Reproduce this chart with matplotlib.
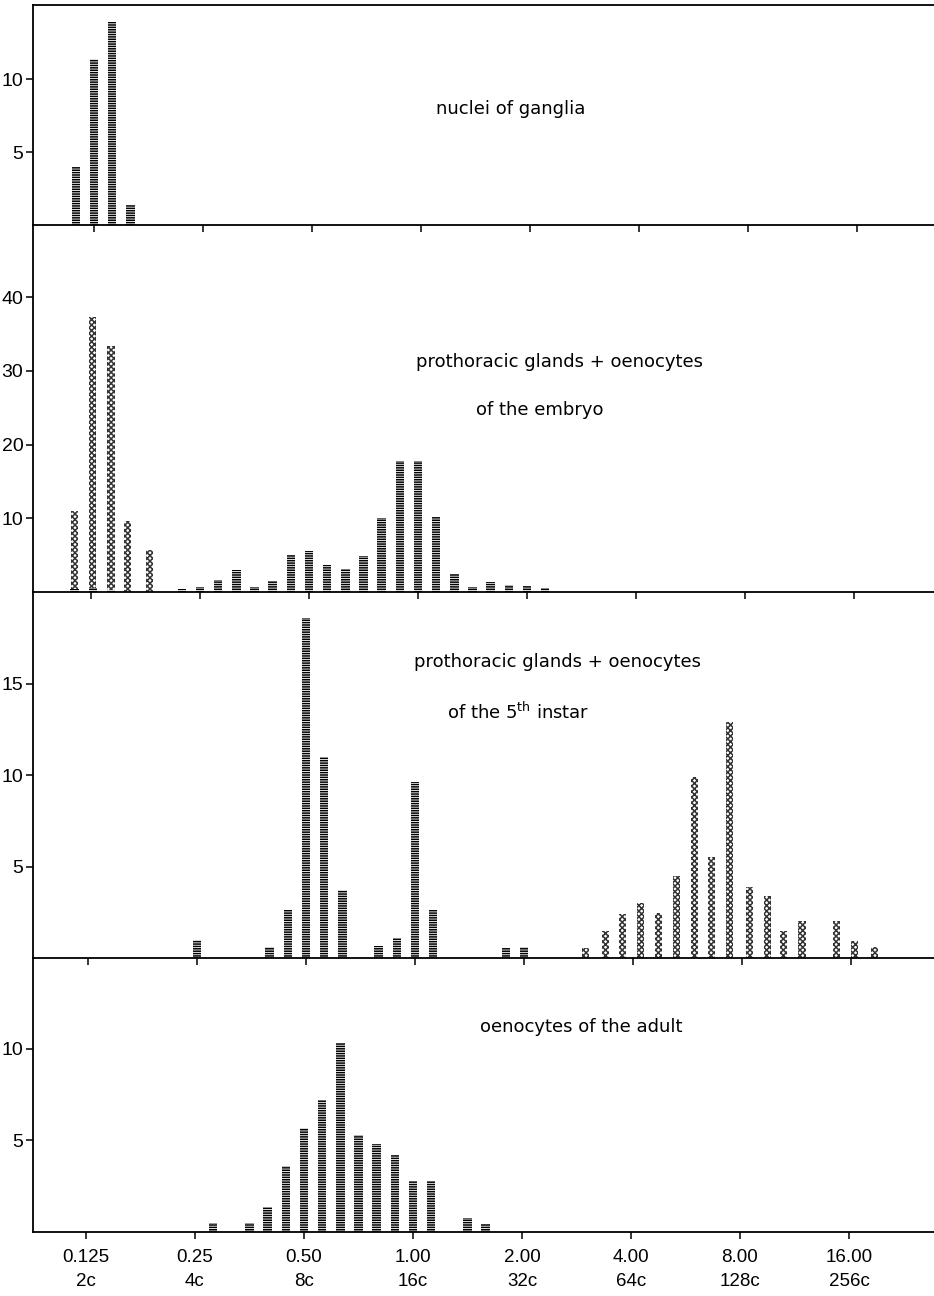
import numpy as np
import matplotlib.pyplot as plt

plt.rcParams['hatch.linewidth'] = 1.1

# x axis: relative DNA content (log2 spaced) and its two-line labels
tick_values = [0.125, 0.25, 0.5, 1, 2, 4, 8, 16]
tick_labels = ["0.125\n2c", "0.25\n4c", "0.50\n8c", "1.00\n16c",
               "2.00\n32c", "4.00\n64c", "8.00\n128c", "16.00\n256c"]

# classes are counted in sixths of an octave above 0.125 (k = 0 -> 0.125)
gang_k = [-1, 0, 1, 2]
gang_n = [4.0, 11.4, 13.9, 1.4]

emb_dot_k = [-0.9, 0.1, 1.1, 2.0, 3.2]
emb_dot_n = [11.0, 37.3, 33.4, 9.6, 5.7]
emb_bar_k = [-0.9, 0.1, 1.1, 5, 6, 7, 8, 9, 10, 11, 12, 13, 14, 15, 16, 17, 18,
             19, 20, 21, 22, 23, 24, 25]
emb_bar_n = [0.4, 0.6, 0.3, 0.4, 0.7, 1.6, 3.0, 0.7, 1.5, 5.0, 5.6, 3.7, 3.1,
             4.9, 10.0, 17.8, 17.8, 10.2, 2.4, 0.7, 1.4, 1.0, 0.8, 0.5]

inst_bar_k = [6, 10, 11, 12, 13, 14, 16, 17, 18, 19, 23, 24]
inst_bar_n = [1.0, 0.6, 2.6, 18.6, 11.0, 3.7, 0.65, 1.1, 9.6, 2.6, 0.55, 0.6]
inst_dot_k = [27.4, 28.5, 29.4, 30.4, 31.4, 32.4, 33.4, 34.3, 35.3, 36.4,
              37.4, 38.3, 39.3, 41.2, 42.2, 43.3]
inst_dot_n = [0.55, 1.5, 2.4, 3.0, 2.45, 4.5, 9.9, 5.5, 12.9, 3.9, 3.4, 1.5,
              2.0, 2.0, 0.95, 0.6]

adult_k = [7, 9, 10, 11, 12, 13, 14, 15, 16, 17, 18, 19, 21, 22]
adult_n = [0.5, 0.5, 1.35, 3.6, 5.7, 7.2, 10.3, 5.3, 4.8, 4.2, 2.8, 2.8,
           0.75, 0.45]

W, H = 934, 1296
fig = plt.figure(figsize=(W / 100, H / 100), dpi=100)

# (top px, bottom px, ymax, yticks, px of the 0.125 tick)
panels = [
    (5, 225, 15.07, [5, 10], 94),
    (225, 592, 49.8, [10, 20, 30, 40], 91),
    (592, 958, 20.0, [5, 10, 15], 88),
    (958, 1232, 14.95, [5, 10], 86),
]
left_px, px_per_oct = 33, 109.0

tick_font = 'Liberation Sans'


def to_x(ks):
    return np.log2(0.125) + np.asarray(ks, dtype=float) / 6


def dark(ax, ks, ns):
    ax.bar(to_x(ks), ns, width=0.078, facecolor='white', edgecolor='black',
           linewidth=0, hatch='-------')


def dotted(ax, ks, ns):
    ax.bar(to_x(ks), ns, width=0.066, facecolor='white', edgecolor='#333333',
           linewidth=0, hatch='xxxxxx')


axes = []
for i, (top, bot, ymax, yt, anchor) in enumerate(panels):
    ax = fig.add_axes([left_px / W, 1 - bot / H, 1 - left_px / W, (bot - top) / H])
    x0 = np.log2(0.125)
    ax.set_xlim(x0 - (anchor - left_px) / px_per_oct, x0 + (W - anchor) / px_per_oct)
    ax.set_ylim(0, ymax)
    ax.set_yticks(yt)
    ax.set_xticks(np.log2(tick_values))
    ax.spines['right'].set_visible(False)
    if i > 0:
        ax.spines['top'].set_visible(False)
    for s in ax.spines.values():
        s.set_linewidth(1.3)
    ax.tick_params(axis='y', direction='out', length=5, width=1.1, pad=2,
                   labelsize=14)
    ax.tick_params(axis='x', direction='out', length=5, width=1.1, pad=7,
                   labelsize=13.5)
    for lab in ax.get_yticklabels():
        lab.set_family(tick_font)
    if i < 3:
        ax.set_xticklabels([])
    else:
        ax.set_xticklabels(tick_labels, linespacing=1.55)
        for lab in ax.get_xticklabels():
            lab.set_family(tick_font)
    ax.patch.set_alpha(0)
    axes.append(ax)

dark(axes[0], gang_k, gang_n)
dotted(axes[1], emb_dot_k, emb_dot_n)
dark(axes[1], emb_bar_k, emb_bar_n)
dark(axes[2], inst_bar_k, inst_bar_n)
dotted(axes[2], inst_dot_k, inst_dot_n)
dark(axes[3], adult_k, adult_n)

labels = [
    ("nuclei of ganglia", 511, 109),
    ("prothoracic glands + oenocytes", 559, 362),
    ("of the embryo", 540, 410),
    ("prothoracic glands + oenocytes", 558, 662),
    ("of the 5$^{\\mathrm{th}}$ instar", 518, 712),
    ("oenocytes of the adult", 581, 1027),
]
for txt, px, py in labels:
    fig.text(px / W, 1 - py / H, txt, ha='center', va='center', fontsize=13,
             family='DejaVu Sans')

fig.savefig('out.png', dpi=100)
